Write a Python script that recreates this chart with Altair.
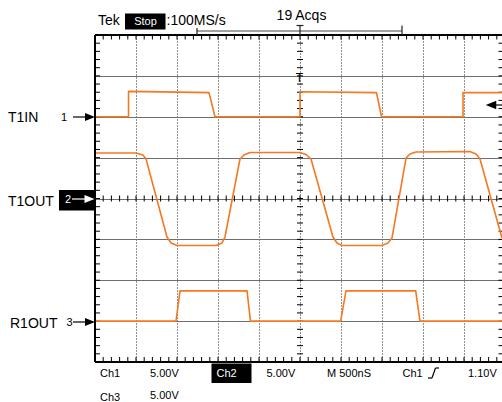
import altair as alt
import pandas as pd

# ---------------- waveform data (time in ns relative to trigger, amplitude in volts) -------------
t1in_t = [-2500, -2091, -2091, -1110, -1037, 0, 0, 933, 994, 1988, 1988, 2463]
t1in_v = [0, 0, 3.1, 2.95, 0, 0, 3.05, 2.95, 0, 0, 2.95, 2.95]

t1out_t = [-2500, -2000, -1915, -1878, -1622, -1573, -1500, -1024, -951, -915, -732, -683, -610,
           0, 73, 134, 402, 451, 512, 1000, 1073, 1122, 1293, 1341, 1415, 2073, 2146, 2195, 2463]
t1out_v = [5.57, 5.57, 5.32, 4.83, -4.71, -5.44, -5.75, -5.75, -5.44, -4.71, 4.83, 5.32, 5.63,
           5.63, 5.38, 4.83, -4.71, -5.44, -5.75, -5.75, -5.44, -4.83, 4.95, 5.44, 5.69, 5.75, 5.44, 4.83, -4.83]

r1out_t = [-2500, -1512, -1463, -646, -604, 496, 561, 1411, 1463, 2463]
r1out_v = [0, 0, 3.7, 3.7, 0, 0, 3.7, 3.7, 0, 0]

channel_names = ["T1IN", "T1OUT", "R1OUT"]
ground_div = {"T1IN": 6, "T1OUT": 4, "R1OUT": 1}
volts_per_div = 5.0
ns_per_div = 500

ORANGE = "#F47920"
FONT = "Liberation Sans"

X_MIN, X_MAX = -2500, 2463.4
scale_x = alt.Scale(domain=[X_MIN, X_MAX], nice=False, zero=False)
scale_y = alt.Scale(domain=[0, 8], nice=False, zero=False)

axis_x = alt.Axis(values=[-2000, -1500, -1000, -500, 0, 500, 1000, 1500, 2000], grid=True,
                  gridDash=[1, 2], gridColor="#222222", gridWidth=1, labels=False, ticks=False,
                  domain=False, title=None)
axis_y = alt.Axis(values=[1, 2, 3, 4, 5, 6, 7], grid=True, gridColor="#6e6e6e", gridWidth=1,
                  labels=False, ticks=False, domain=False, title=None)


def X(f):
    return alt.X(f, type="quantitative", scale=scale_x, axis=axis_x)


def Y(f):
    return alt.Y(f, type="quantitative", scale=scale_y, axis=axis_y)


# screen layout helpers (screen pixel -> data units of the scope grid)
def tx(px):
    return (px - 300) * ns_per_div / 41


def ty(py):
    return (362 - py) / 40.875


# ---------------- waveform table ----------------
rows = []
for name, ts, vs in [("T1IN", t1in_t, t1in_v), ("T1OUT", t1out_t, t1out_v), ("R1OUT", r1out_t, r1out_v)]:
    for i, (t, v) in enumerate(zip(ts, vs)):
        rows.append({"ch": name, "i": i, "t": t, "y": ground_div[name] + v / volts_per_div})
wave_df = pd.DataFrame(rows)

wave = alt.Chart(wave_df).mark_line(color=ORANGE, strokeWidth=1.6, strokeJoin="round").encode(
    x=X("t"), y=Y("y"), detail="ch:N", order="i:Q")

# ---------------- graticule tick marks ----------------
minor_t = [X_MIN + 100 * k for k in range(51) if X_MIN + 100 * k <= X_MAX]
minor_y = [0.2 * k for k in range(41)]
ticks = []
for t in minor_t:
    ticks.append({"x": t, "x2": t, "y": 8, "y2": ty(39.5)})
    ticks.append({"x": t, "x2": t, "y": 0, "y2": ty(357)})
    ticks.append({"x": t, "x2": t, "y": 4 - 3 / 40.875, "y2": 4 + 3 / 40.875})
for yv in minor_y:
    ticks.append({"x": X_MIN, "x2": tx(100), "y": yv, "y2": yv})
    ticks.append({"x": tx(498.5), "x2": X_MAX, "y": yv, "y2": yv})
    ticks.append({"x": tx(297), "x2": tx(303), "y": yv, "y2": yv})
tick_layer = alt.Chart(pd.DataFrame(ticks)).mark_rule(color="black", strokeWidth=1).encode(
    x=X("x"), x2="x2", y=Y("y"), y2="y2")

# ---------------- borders & decorations ----------------
segs = [
    # borders
    (95, 35, 502, 35, "black", 2), (95, 35, 95, 362, "black", 2), (95, 362, 502, 362, "black", 2),
    # record bracket with trigger T
    (197, 31, 402, 31, "#444444", 1), (197, 28, 197, 35, "#222222", 1.2), (402, 25.5, 402, 35, "#222222", 1.2),
    (300, 25.5, 300, 35, "#222222", 1.2), (296.5, 25.5, 303.5, 25.5, "#222222", 1.2),
    # channel arrows
    (73, 117, 87, 117, "black", 1.2), (72, 199, 86, 199, "white", 1.2), (73, 322, 87, 322, "black", 1.2),
    (491, 105, 502, 105, "black", 1.2),
    # trigger slope glyph
    (428, 378, 432, 378, "black", 1.2), (432, 378, 435.5, 368, "black", 1.2), (435.5, 368, 439, 368, "black", 1.2),
]
seg_df = pd.DataFrame([{"x": tx(a), "y": ty(b), "x2": tx(c), "y2": ty(d), "c": col, "w": w}
                       for a, b, c, d, col, w in segs])

boxes = [(125, 13.5, 165.5, 29.5), (59, 190, 95, 210.5), (211.5, 363.5, 251.5, 383)]
box_df = pd.DataFrame([{"x": tx(a), "y": ty(b), "x2": tx(c), "y2": ty(d)} for a, b, c, d in boxes])

# Segments (arrows etc.) drawn after boxes so white arrow is visible
seg_layer = alt.Chart(seg_df).mark_rule(strokeCap="butt").encode(
    x=X("x"), x2="x2", y=Y("y"), y2="y2",
    color=alt.Color("c:N", scale=None), strokeWidth=alt.StrokeWidth("w:Q", scale=None))
box_layer = alt.Chart(box_df).mark_rect(color="black").encode(x=X("x"), x2="x2", y=Y("y"), y2="y2")

tri_r = pd.DataFrame([{"x": tx(90), "y": ty(117), "c": "black"},
                      {"x": tx(89.5), "y": ty(199), "c": "white"},
                      {"x": tx(90), "y": ty(322), "c": "black"}])
tri_l = pd.DataFrame([{"x": tx(491), "y": ty(105), "c": "black"}])
tri_r_layer = alt.Chart(tri_r).mark_point(filled=True, shape="M -1 -0.8 L 1 0 L -1 0.8 Z", size=100,
                                          opacity=1, strokeWidth=0).encode(
    x=X("x"), y=Y("y"), color=alt.Color("c:N", scale=None))
tri_l_layer = alt.Chart(tri_l).mark_point(filled=True, shape="M 1 -0.8 L -1 0 L 1 0.8 Z", size=110,
                                          opacity=1, strokeWidth=0).encode(
    x=X("x"), y=Y("y"), color=alt.Color("c:N", scale=None))

# ---------------- texts ----------------
left_texts = [
    ("Tek", 98, 20.8, 14, "black"), (":100MS/s", 166.5, 20.8, 14, "black"),
    ("T1IN", 8, 117.5, 14, "black"), ("T1OUT", 8, 201.5, 14, "black"), ("R1OUT", 10, 323.5, 14, "black"),
    ("Ch1", 100, 374, 11, "black"), ("5.00V", 150, 374, 11, "black"), ("Ch2", 216.5, 374, 11, "white"),
    ("5.00V", 266.5, 374, 11, "black"), ("M 500nS", 327, 374, 11, "black"), ("Ch1", 402.5, 374, 11, "black"),
    ("1.10V", 468, 374, 11, "black"), ("Ch3", 100, 397.5, 11, "black"), ("5.00V", 150, 396, 11, "black"),
]
center_texts = [
    ("Stop", 145.5, 21.5, 11, "white"), ("19 Acqs", 301.5, 16, 14, "black"),
    ("1", 64, 117.5, 11, "black"), ("2", 68, 199.5, 11, "white"), ("3", 69.5, 322.5, 11, "black"),
    ("T", 299.5, 78, 12, "black"),
]


def text_df(items):
    return pd.DataFrame([{"txt": s, "x": tx(a), "y": ty(b), "s": fs, "c": col} for s, a, b, fs, col in items])


text_left = alt.Chart(text_df(left_texts)).mark_text(align="left", baseline="middle", font=FONT).encode(
    x=X("x"), y=Y("y"), text="txt:N", size=alt.Size("s:Q", scale=None), color=alt.Color("c:N", scale=None))
text_center = alt.Chart(text_df(center_texts)).mark_text(align="center", baseline="middle", font=FONT).encode(
    x=X("x"), y=Y("y"), text="txt:N", size=alt.Size("s:Q", scale=None), color=alt.Color("c:N", scale=None))

chart = alt.layer(
    tick_layer, wave, box_layer, seg_layer, tri_r_layer, tri_l_layer, text_left, text_center
).properties(
    width=407, height=327,
    autosize=alt.AutoSizeParams(type="none"),
    padding={"left": 95, "top": 35, "right": 0, "bottom": 40},
    background="white",
).configure_view(stroke=None)

chart.save("out.html", embed_options={"renderer": "svg", "actions": False})
